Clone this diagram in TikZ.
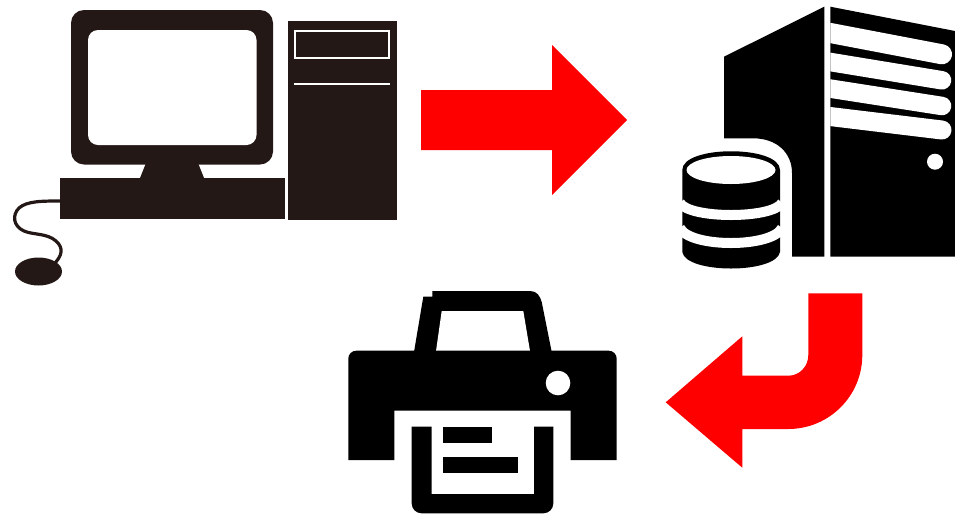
\documentclass[tikz,border=0pt]{standalone}
\usepackage{tikz}
\definecolor{pcink}{HTML}{231815}
\tikzset{
  pcpart/.style={fill=pcink},
  srvpart/.style={fill=black},
  redarrow/.style={fill=red},
  gapline/.style={draw=white,line width=#1},
}
\begin{document}
\begin{tikzpicture}[x=1pt,y=-1pt]
\useasboundingbox (0,0) rectangle (955,515);
% desktop computer: monitor, stand, keyboard, tower, mouse
\fill[pcpart,rounded corners=13pt] (71,10) rectangle (273,164.5);
\fill[white,rounded corners=10pt] (88,30) rectangle (256.5,145);
\fill[pcpart] (146,163) -- (198,163) -- (204,178) -- (140,178) -- cycle;
\fill[pcpart] (60,177.5) rectangle (284.5,219);
\fill[pcpart] (287.5,20.5) rectangle (397,220);
\draw[white,line width=1.6pt] (295,31) rectangle (389,58);
\draw[white,line width=2pt] (294,83.5) -- (390,83.5);
\draw[pcink,line width=3.2pt] (61,201) .. controls (42,201) and (27,201) .. (19,208)
  .. controls (12,215) and (13,226) .. (24,231)
  .. controls (33,235) and (47,233) .. (56,241)
  .. controls (64,248) and (62,256) .. (54,264);
\fill[pcpart] (38.5,271.5) ellipse (23.5 and 14);
% server tower, split by a thin gap
\fill[srvpart] (824.3,6.7) -- (724,56.7) -- (724,138.3) -- (753,138.3)
  .. controls (777,138.3) and (792,153) .. (792,173) -- (792,256.7) -- (824.3,256.7) -- cycle;
\fill[srvpart] (830.3,6.7) -- (955,31) -- (955,256.7) -- (830.3,256.7) -- cycle;
\begin{scope}
\clip (830.3,0) rectangle (955,257);
\foreach \ya/\yb/\wd in {33/54.3/20,62.3/80.3/18.5,89/106/18.5,117.3/130/19} {
  \draw[white,line width=\wd pt,line cap=round] (820,\ya-2) -- (942,\yb);
}
\end{scope}
\fill[white] (935,161.7) circle (8);
% database stack
\fill[srvpart] (682.3,170) .. controls (682.3,145) and (780,145) .. (780,170) -- (780,252)
  .. controls (776,274) and (686,274) .. (682.3,252) -- cycle;
\fill[white] (731,170) ellipse (44.5 and 14);
\draw[gapline=10pt] (680,203) .. controls (690,219) and (772,219) .. (782,203);
\draw[gapline=10pt] (680,228) .. controls (690,248) and (772,248) .. (782,228);
% printer body and tray
\fill[srvpart] (414,352) -- (423.3,296.7) -- (432.3,296.7) -- (432.3,291) -- (530,291)
  .. controls (537,291) and (540,296) .. (541.7,302) -- (551.7,352) -- cycle;
\fill[white] (436,351) -- (441.7,311) -- (523.3,311) -- (530,351) -- cycle;
\fill[srvpart] (348.3,460) -- (348.3,358.7) .. controls (348.3,354) and (352,350.7) .. (356.3,350.7)
  -- (608.7,350.7) .. controls (613,350.7) and (616.7,354) .. (616.7,358.7) -- (616.7,460)
  -- (570.7,460) -- (570.7,410.7) -- (394.3,410.7) -- (394.3,460) -- cycle;
\fill[white] (558,383) circle (12.3);
% sheet coming out of the printer
\fill[srvpart] (411.7,426.7) -- (411.7,503.3) .. controls (411.7,509) and (416,513.3) .. (421.7,513.3)
  -- (543.3,513.3) .. controls (549,513.3) and (553.3,509) .. (553.3,503.3) -- (553.3,426.7)
  -- (534,426.7) -- (534,494) -- (431.7,494) -- (431.7,426.7) -- cycle;
\fill[srvpart] (443.3,426.7) rectangle (491.7,443.3);
\fill[srvpart] (443.3,456.7) rectangle (517.7,473.3);
% red block arrows
\fill[redarrow] (421,90) -- (552,90) -- (552,45) -- (627,120) -- (552,195) -- (552,150) -- (421,150) -- cycle;
\fill[redarrow] (808.3,293.3) -- (862.3,293.3) -- (862.3,355)
  .. controls (862.3,396) and (829,429) .. (788.3,429) -- (742.3,429) -- (742.3,467.7)
  -- (665.7,402.3) -- (742.3,336.3) -- (742.3,375.7) -- (788.3,375.7)
  .. controls (799.3,375.7) and (808.3,366.7) .. (808.3,355) -- cycle;
\end{tikzpicture}
\end{document}
